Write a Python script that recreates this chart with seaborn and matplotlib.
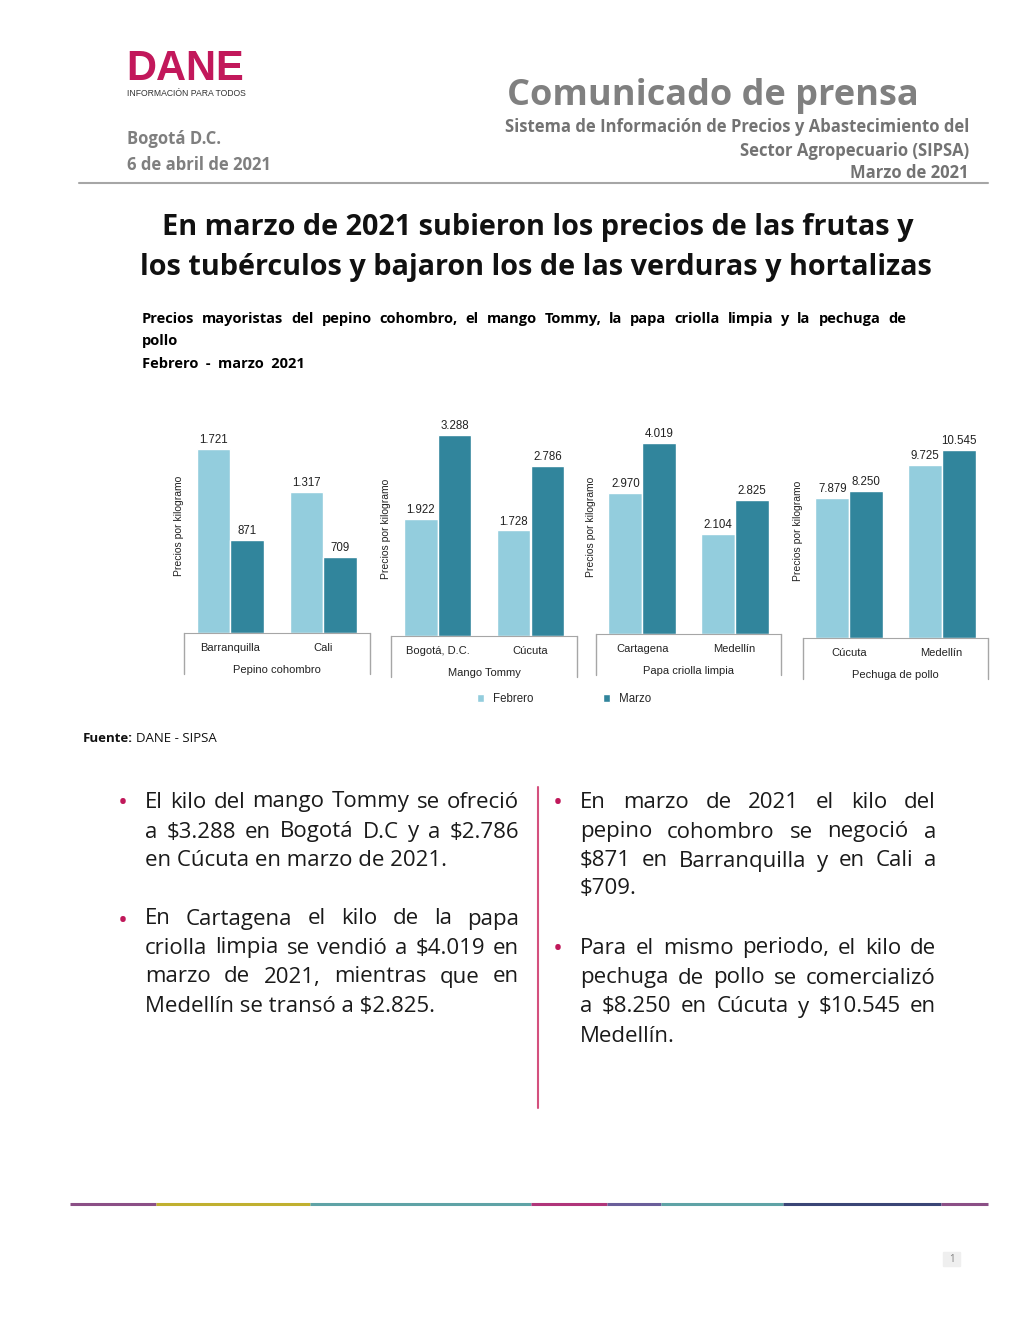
import pandas as pd
import numpy as np
import matplotlib
matplotlib.use("Agg")
import matplotlib.pyplot as plt
import seaborn as sns

sns.set_style("white")
plt.rcParams["font.family"] = ["Open Sans", "DejaVu Sans"]

# Data
productos = ["Pepino cohombro", "Mango Tommy", "Papa criolla limpia", "Pechuga de pollo"]
ciudades = [["Barranquilla", "Cali"], ["Bogotá, D.C.", "Cúcuta"],
            ["Cartagena", "Medellín"], ["Cúcuta", "Medellín"]]
febrero = [[1721, 1317], [1922, 1728], [2970, 2104], [7879, 9725]]
marzo = [[871, 709], [3288, 2786], [4019, 2825], [8250, 10545]]
meses = ["Febrero", "Marzo"]
colores = ["#93CDDD", "#31859C"]

rows = []
for i, prod in enumerate(productos):
    for j, ciudad in enumerate(ciudades[i]):
        rows.append([prod, ciudad, "Febrero", febrero[i][j]])
        rows.append([prod, ciudad, "Marzo", marzo[i][j]])
df = pd.DataFrame(rows, columns=["producto", "ciudad", "mes", "precio"])

W, H = 1020, 1320
fig = plt.figure(figsize=(W / 100, H / 100), dpi=100)
r = fig.canvas.get_renderer()


def X(p):
    return p / W


def Y(p):
    return 1 - p / H


def txt(x, y, s, **kw):
    return fig.text(X(x), Y(y), s, **kw)


def justify(line, x0, x1, y, last=False, **kw):
    if last:
        txt(x0, y, line, va="center", **kw)
        return
    words = line.split()
    ts = [txt(0, y, w, va="center", **kw) for w in words]
    ws = [t.get_window_extent(r).width for t in ts]
    gap = (x1 - x0 - sum(ws)) / (len(words) - 1)
    x = x0
    for t, w in zip(ts, ws):
        t.set_x(X(x))
        x += w + gap


# header
txt(126, 80, "DANE", fontsize=30, fontweight="bold", color="#C2185B",
    family="Liberation Sans", va="baseline")
txt(127, 93, "INFORMACIÓN PARA TODOS", fontsize=6.2, color="#333333",
    family="Liberation Sans", va="center")
txt(919, 105, "Comunicado de prensa", fontsize=26, fontweight="bold",
    color="#808080", ha="right", va="baseline")
for yy, s in zip([127, 151, 173], ["Sistema de Información de Precios y Abastecimiento del",
                                   "Sector Agropecuario (SIPSA)", "Marzo de 2021"]):
    txt(969, yy, s, fontsize=12, fontweight="bold", color="#737373", ha="right", va="center")
txt(127, 139, "Bogotá D.C.", fontsize=12, fontweight="bold", color="#7F7F7F", va="center")
txt(127, 165, "6 de abril de 2021", fontsize=12, fontweight="bold", color="#7F7F7F", va="center")
fig.add_artist(plt.Line2D([X(79), X(988)], [Y(183), Y(183)], color="#A6A6A6", lw=1.5))

txt(538, 227, "En marzo de 2021 subieron los precios de las frutas y", fontsize=20.8,
    fontweight="bold", color="#111111", ha="center", va="center")
txt(536, 267, "los tubérculos y bajaron los de las verduras y hortalizas", fontsize=20.8,
    fontweight="bold", color="#111111", ha="center", va="center")

justify("Precios mayoristas del pepino cohombro, el mango Tommy, la papa criolla limpia y la pechuga de",
        142, 906, 319, fontsize=10.5, fontweight="bold", color="black")
txt(142, 341, "pollo", fontsize=10.5, fontweight="bold", color="black", va="center")
txt(142, 364, "Febrero  -  marzo  2021", fontsize=10.5, fontweight="bold", color="black", va="center")

# charts
paneles = [(184, 633, 186, 2011), (391, 636, 186, 3517),
           (596, 634, 185, 4524), (803, 638, 185, 12060)]
handles = None
for i, (left, base, width, ymax) in enumerate(paneles):
    ax = fig.add_axes([X(left), Y(base), width / W, 215 / H])
    sub = df[df["producto"] == productos[i]]
    sns.barplot(data=sub, x="ciudad", y="precio", hue="mes", palette=colores,
                hue_order=meses, width=0.73, ax=ax, saturation=1)
    if handles is None:
        handles, labels = ax.get_legend_handles_labels()
    ax.get_legend().remove()
    for c in ax.containers:
        ax.bar_label(c, fmt=lambda v: f"{v:,.0f}".replace(",", "."),
                     padding=2, fontsize=8.3, family="Liberation Sans", color="#222222")
    ax.set_ylim(0, ymax)
    ax.set_xlim(-0.5, 1.5)
    ax.set_yticks([])
    for s in ["top", "left", "right"]:
        ax.spines[s].set_visible(False)
    ax.spines["bottom"].set_color("#A6A6A6")
    d = 41 / 215
    for xx in [0, 1]:
        ax.plot([xx, xx], [0, -d], transform=ax.transAxes, color="#A6A6A6",
                lw=1, clip_on=False)
    ax.tick_params(axis="x", length=0, pad=7.5)
    for t in ax.get_xticklabels():
        t.set_fontsize(8)
        t.set_family("Liberation Sans")
        t.set_color("#222222")
    ax.set_xlabel(productos[i], fontsize=8, family="Liberation Sans",
                  color="#222222", labelpad=8)
    ax.set_ylabel("Precios por kilogramo", fontsize=7.5, family="Liberation Sans",
                  color="#222222")
    ax.yaxis.set_label_coords(0.0, 0.5)
    ax.set_facecolor("none")

fig.legend(handles, labels, loc="center", bbox_to_anchor=(X(564), Y(699)), ncol=2,
           frameon=False, handlelength=0.6, handleheight=0.6, columnspacing=6,
           prop={"family": "Liberation Sans", "size": 8.3})

# fuente
t = txt(83, 739, "Fuente:", fontsize=9.5, fontweight="bold", color="#111111", va="center")
wf = t.get_window_extent(r).width
txt(83 + wf + 3, 739, "DANE - SIPSA", fontsize=9.5, color="#111111", va="center")

# bullets
kw = dict(fontsize=16, color="#1A1A1A")
izq = [
    (["El kilo del mango Tommy se ofreció",
      "a $3.288 en Bogotá D.C y a $2.786",
      "en Cúcuta en marzo de 2021."], [802, 832, 861]),
    (["En Cartagena el kilo de la papa",
      "criolla limpia se vendió a $4.019 en",
      "marzo de 2021, mientras que en",
      "Medellín se transó a $2.825."], [919, 948, 977, 1006]),
]
der = [
    (["En marzo de 2021 el kilo del",
      "pepino cohombro se negoció a",
      "$871 en Barranquilla y en Cali a",
      "$709."], [802, 832, 861, 889]),
    (["Para el mismo periodo, el kilo de",
      "pechuga de pollo se comercializó",
      "a $8.250 en Cúcuta y $10.545 en",
      "Medellín."], [948, 978, 1007, 1036]),
]
for bloques, xb, x0, x1 in [(izq, 123, 145, 519), (der, 558, 580, 936)]:
    for lineas, ys in bloques:
        txt(xb, ys[0] + 2, "•", fontsize=19, color="#C0185A", ha="center", va="center")
        for k, (ln, yy) in enumerate(zip(lineas, ys)):
            justify(ln, x0, x1, yy, last=(k == len(lineas) - 1), **kw)

fig.add_artist(plt.Line2D([X(538), X(538)], [Y(787), Y(1108)], color="#D4517E", lw=1.5))

# franja de colores
franja = [(70, 156, "#8B4F86"), (156, 310, "#C0B030"), (310, 531, "#5FA3A6"),
          (531, 607, "#B0357A"), (607, 661, "#6A5E9A"), (661, 783, "#5FA3A6"),
          (783, 941, "#3A4576"), (941, 988, "#8B4F86")]
for a, b, c in franja:
    fig.add_artist(plt.Line2D([X(a), X(b)], [Y(1204), Y(1204)], color=c, lw=2.2,
                              solid_capstyle="butt"))

fig.add_artist(plt.Rectangle((X(943), Y(1266)), 17 / W, 14 / H, color="#EFEFEF"))
txt(952, 1259, "1", fontsize=7, color="#7F7F7F", ha="center", va="center")

fig.savefig("out.png", dpi=100)
